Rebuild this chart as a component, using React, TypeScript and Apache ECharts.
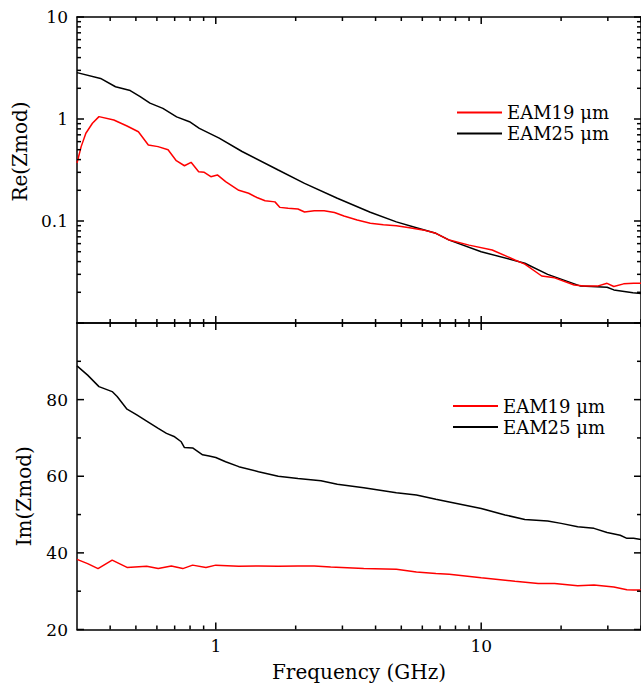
import React, { useEffect, useRef } from "react";
import * as echarts from "echarts";

// ---------- Data ----------
const name19 = "EAM19 μm";
const name25 = "EAM25 μm";

// Re(Zmod) panel
const reFreq25 = [0.3, 0.368, 0.419, 0.476, 0.519, 0.565, 0.632, 0.712, 0.796, 0.867, 1.03, 1.256, 1.719, 2.16, 2.87, 3.82, 4.79, 5.7, 6.75, 7.58, 10.0, 14.6, 17.8, 23.7, 29.8, 31.6, 37.3, 40];
const re25 = [2.85, 2.5, 2.07, 1.9, 1.66, 1.43, 1.27, 1.05, 0.94, 0.81, 0.65, 0.48, 0.316, 0.234, 0.167, 0.122, 0.098, 0.086, 0.0757, 0.065, 0.05, 0.0385, 0.03, 0.023, 0.0224, 0.0211, 0.0198, 0.0195];

const reFreq19 = [0.3, 0.311, 0.324, 0.343, 0.363, 0.413, 0.463, 0.511, 0.557, 0.606, 0.661, 0.71, 0.762, 0.807, 0.862, 0.905, 0.958, 1.014, 1.089, 1.221, 1.33, 1.428, 1.534, 1.671, 1.745, 1.873, 2.04, 2.16, 2.35, 2.56, 2.8, 3.04, 3.41, 3.82, 4.28, 4.79, 5.37, 6.03, 6.75, 7.58, 9.0, 11.0, 13.4, 14.6, 16.9, 18.9, 22.4, 24.4, 27.4, 29.8, 31.6, 34.4, 37.5, 40];
const re19 = [0.37, 0.536, 0.725, 0.908, 1.055, 0.977, 0.853, 0.75, 0.556, 0.536, 0.5, 0.39, 0.348, 0.376, 0.304, 0.3, 0.272, 0.283, 0.243, 0.2, 0.187, 0.17, 0.158, 0.154, 0.136, 0.133, 0.131, 0.1226, 0.126, 0.126, 0.121, 0.112, 0.1025, 0.095, 0.0917, 0.0898, 0.086, 0.0818, 0.0757, 0.065, 0.058, 0.052, 0.0415, 0.0378, 0.0289, 0.0277, 0.0236, 0.023, 0.023, 0.0245, 0.0228, 0.0242, 0.0245, 0.0245];

// Im(Zmod) panel
const imFreq25 = [0.3, 0.329, 0.363, 0.407, 0.425, 0.463, 0.504, 0.549, 0.607, 0.652, 0.7, 0.741, 0.762, 0.818, 0.892, 0.944, 1.0, 1.089, 1.221, 1.449, 1.719, 2.04, 2.49, 2.87, 3.61, 4.79, 5.7, 6.75, 7.58, 10.0, 12.3, 14.6, 17.8, 20.0, 23.1, 26.6, 29.8, 33.4, 35.4, 37.5, 40];
const im25 = [88.8, 86.4, 83.4, 82.1, 80.8, 77.5, 76.0, 74.4, 72.5, 71.2, 70.3, 69.0, 67.5, 67.4, 65.6, 65.3, 64.9, 63.8, 62.5, 61.2, 60.0, 59.4, 58.8, 57.9, 57.0, 55.7, 55.1, 54.0, 53.3, 51.6, 49.9, 48.7, 48.3, 47.7, 46.8, 46.4, 45.3, 44.6, 43.8, 43.8, 43.5];

const imFreq19 = [0.3, 0.329, 0.36, 0.407, 0.463, 0.549, 0.607, 0.68, 0.751, 0.818, 0.918, 1.0, 1.221, 1.449, 1.719, 2.04, 2.35, 2.71, 3.61, 4.79, 5.7, 6.75, 7.58, 10.0, 13.4, 16.4, 18.9, 23.1, 26.6, 31.6, 35.4, 37.5, 40];
const im19 = [38.3, 37.2, 35.9, 38.1, 36.2, 36.5, 35.9, 36.6, 35.9, 36.8, 36.2, 36.8, 36.5, 36.6, 36.5, 36.6, 36.6, 36.3, 35.9, 35.7, 35.0, 34.6, 34.4, 33.5, 32.6, 32.0, 32.0, 31.4, 31.6, 31.1, 30.4, 30.3, 30.3];

// Axis ranges, ticks & labels
const xRange = [0.3, 40];
const reRange = [0.01, 10];
const imRange = [20, 100];
const xMajorTicks = [1, 10];
const xMinorTicks = [0.4, 0.5, 0.6, 0.7, 0.8, 0.9, 2, 3, 4, 5, 6, 7, 8, 9, 20, 30, 40];
const xLabels = [1, 10];
const reMajorTicks = [0.01, 0.1, 1, 10];
const reMinorTicks = [0.02, 0.03, 0.04, 0.05, 0.06, 0.07, 0.08, 0.09, 0.2, 0.3, 0.4, 0.5, 0.6, 0.7, 0.8, 0.9, 2, 3, 4, 5, 6, 7, 8, 9];
const reLabels = [0.1, 1, 10];
const imMajorTicks = [20, 40, 60, 80, 100];
const imMinorTicks = [30, 50, 70, 90];
const imLabels = [20, 40, 60, 80];

const FONT = "'DejaVu Serif', 'Liberation Serif', serif";
const BLACK = "#000000";
const RED = "#ff0000";
const MAJOR = 7;
const MINOR = 4;

const pairs = (xs: number[], ys: number[]) => xs.map((x, i) => [x, ys[i]]);

// tick mark records: [x, y, side(0 bottom,1 top,2 left,3 right), length]
function tickRecords(
  xr: number[],
  yr: number[],
  xMaj: number[],
  xMin: number[],
  yMaj: number[],
  yMin: number[]
) {
  const out: number[][] = [];
  for (const [vals, len] of [[xMaj, MAJOR], [xMin, MINOR]] as [number[], number][]) {
    vals.forEach((v) => {
      out.push([v, yr[0], 0, len]);
      out.push([v, yr[1], 1, len]);
    });
  }
  for (const [vals, len] of [[yMaj, MAJOR], [yMin, MINOR]] as [number[], number][]) {
    vals.forEach((v) => {
      out.push([xr[0], v, 2, len]);
      out.push([xr[1], v, 3, len]);
    });
  }
  return out;
}

const renderTick = (_params: any, api: any) => {
  const side = api.value(2);
  const len = api.value(3);
  const p = api.coord([api.value(0), api.value(1)]);
  let x2 = p[0];
  let y2 = p[1];
  if (side === 0) y2 = p[1] - len;
  else if (side === 1) y2 = p[1] + len;
  else if (side === 2) x2 = p[0] + len;
  else x2 = p[0] - len;
  return {
    type: "line",
    shape: { x1: p[0], y1: p[1], x2, y2 },
    style: { stroke: BLACK, lineWidth: 1.5 },
  };
};

function axisBase(gridIndex: number, position: string, type: string, range: number[], extra: any = {}) {
  return {
    gridIndex,
    position,
    type,
    ...(type === "log" ? { logBase: 10 } : {}),
    min: range[0],
    max: range[1],
    axisLine: { show: true, onZero: false, lineStyle: { color: BLACK, width: 1.5 } },
    axisTick: { show: false },
    minorTick: { show: false },
    axisLabel: { show: false },
    splitLine: { show: false },
    minorSplitLine: { show: false },
    ...extra,
  };
}

function buildOption() {
  const labelStyle = { show: true, color: BLACK, fontFamily: FONT, fontSize: 17 };
  const xAxis = [
    axisBase(0, "bottom", "log", xRange),
    axisBase(0, "top", "log", xRange),
    axisBase(1, "bottom", "log", xRange, {
      axisLabel: { ...labelStyle, margin: 8, customValues: xLabels },
      name: "Frequency (GHz)",
      nameLocation: "middle",
      nameGap: 32,
      nameTextStyle: { color: BLACK, fontFamily: FONT, fontSize: 20 },
    }),
    axisBase(1, "top", "log", xRange),
  ];
  const yAxis = [
    axisBase(0, "left", "log", reRange, {
      axisLabel: { ...labelStyle, margin: 9, customValues: reLabels },
      name: "Re(Zmod)",
      nameLocation: "middle",
      nameGap: 43,
      nameTextStyle: { color: BLACK, fontFamily: FONT, fontSize: 20, padding: [0, 0, 0, 37] },
    }),
    axisBase(0, "right", "log", reRange),
    axisBase(1, "left", "value", imRange, {
      interval: 20,
      axisLabel: { ...labelStyle, margin: 9, customValues: imLabels },
      name: "Im(Zmod)",
      nameLocation: "middle",
      nameGap: 43,
      nameTextStyle: { color: BLACK, fontFamily: FONT, fontSize: 20, padding: [0, 40, 0, 0] },
    }),
    axisBase(1, "right", "value", imRange, { interval: 20 }),
  ];

  const s = (name: string, color: string, data: number[][], xi: number, yi: number) => ({
    name,
    type: "line",
    xAxisIndex: xi,
    yAxisIndex: yi,
    data,
    showSymbol: false,
    symbol: "none",
    color,
    lineStyle: { color, width: 1.5 },
  });

  const tickSeries = (xi: number, yi: number, data: number[][]) => ({
    type: "custom",
    xAxisIndex: xi,
    yAxisIndex: yi,
    data,
    encode: { x: 0, y: 1 },
    renderItem: renderTick,
    silent: true,
    clip: false,
    z: 4,
  });

  const legendBase = {
    orient: "vertical",
    padding: 0,
    itemWidth: 45,
    itemHeight: 2,
    itemGap: 1,
    icon: "rect",
    selectedMode: false,
    textStyle: { color: BLACK, fontFamily: FONT, fontSize: 18, lineHeight: 20 },
    data: [name19, name25],
  };

  return {
    animation: false,
    backgroundColor: "#ffffff",
    grid: [
      { left: 77, top: 17, width: 570, height: 306, containLabel: false },
      { left: 77, top: 323, width: 570, height: 306.5, containLabel: false },
    ],
    legend: [
      { ...legendBase, left: 457, top: 102.5 },
      { ...legendBase, left: 453, top: 396 },
    ],
    xAxis,
    yAxis,
    series: [
      s(name25, BLACK, pairs(reFreq25, re25), 0, 0),
      s(name19, RED, pairs(reFreq19, re19), 0, 0),
      s(name25, BLACK, pairs(imFreq25, im25), 2, 2),
      s(name19, RED, pairs(imFreq19, im19), 2, 2),
      tickSeries(0, 0, tickRecords(xRange, reRange, xMajorTicks, xMinorTicks, reMajorTicks, reMinorTicks)),
      tickSeries(2, 2, tickRecords(xRange, imRange, xMajorTicks, xMinorTicks, imMajorTicks, imMinorTicks)),
    ],
  };
}

export default function App() {
  const ref = useRef<HTMLDivElement>(null);

  useEffect(() => {
    if (!ref.current) return;
    const chart = echarts.init(ref.current, undefined, { renderer: "svg" });
    chart.setOption(buildOption() as any);
    return () => chart.dispose();
  }, []);

  return (
    <div style={{ position: "absolute", left: 0, top: 0, width: 641, height: 690, background: "#fff", overflow: "hidden" }}>
      <div ref={ref} style={{ position: "absolute", left: 0, top: 0, width: 641, height: 690 }} />
    </div>
  );
}
